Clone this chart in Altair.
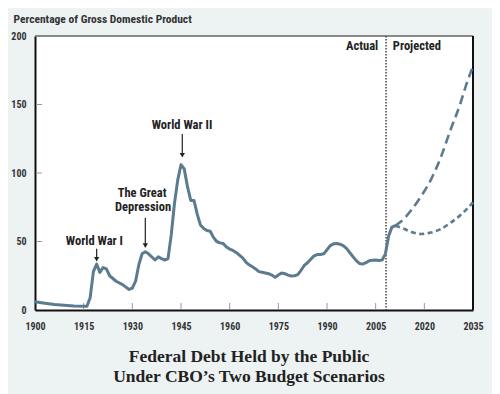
import altair as alt
import pandas as pd

# ---- data ----
hist_years = [1900, 1903, 1906, 1909, 1912, 1916, 1917, 1918, 1919, 1920, 1921, 1922, 1923, 1925,
              1927, 1929, 1930, 1931, 1932, 1933, 1934, 1935, 1937, 1938, 1939, 1940, 1941, 1942,
              1943, 1944, 1945, 1946, 1947, 1948, 1949, 1950, 1951, 1952, 1953, 1954, 1955, 1956,
              1957, 1958, 1959, 1960, 1961, 1962, 1963, 1964, 1965, 1966, 1967, 1968, 1969, 1970,
              1971, 1972, 1973, 1974, 1975, 1976, 1977, 1978, 1979, 1980, 1981, 1982, 1983, 1984,
              1985, 1986, 1987, 1988, 1989, 1990, 1991, 1992, 1993, 1994, 1995, 1996, 1997, 1998,
              1999, 2000, 2001, 2002, 2003, 2004, 2005, 2006, 2007, 2008, 2009, 2010, 2011]
hist_values = [6, 5, 4, 3.5, 3, 2.7, 9, 28, 33.5, 27.5, 31, 30, 25, 21,
               18.5, 15, 16, 21, 33, 41, 42.5, 41, 36.5, 38.8, 37.5, 36.5, 37.5, 55,
               78, 95, 106, 103, 90, 80, 80, 70, 62, 59.5, 58, 57.5, 53, 50,
               49, 48.5, 46, 44.5, 43.5, 42, 40, 38, 35, 33, 31.5, 30, 28, 27.5,
               27, 26.5, 25.5, 23.8, 25.5, 27, 26.5, 25.5, 24.8, 25, 25.8, 29, 32.5, 34.5,
               37, 39.5, 40.5, 40.5, 41, 44, 47, 48.3, 48.5, 48, 47, 45, 42, 39,
               36, 34, 33.5, 34.5, 36, 36.3, 36.5, 36.2, 36.5, 41, 54, 60.5, 61.5]

proj_years = [2011, 2013, 2016, 2019, 2022, 2025, 2028, 2031, 2033, 2035]
proj_high = [61.5, 65, 73, 83, 95, 111, 131, 150, 165, 178]
proj_low = [61.5, 60, 57, 55.5, 56.5, 59, 63.5, 69, 73.5, 78.5]

x_ticks = [1900, 1915, 1930, 1945, 1960, 1975, 1990, 2005, 2020, 2035]
y_ticks = [0, 50, 100, 150, 200]
divider_year = 2008.2

ann_labels = ["World War II", "The Great", "Depression", "World War I", "Actual", "Projected"]
ann_x = [1945.3, 1933.0, 1933.3, 1918.3, 2005.8, 2010.3]
ann_y = [132, 82.3, 72.2, 47.6, 189.7, 189.7]
ann_align = ["center", "center", "center", "center", "right", "left"]

arrow_x = [1945.4, 1934.0, 1919.0]
arrow_top = [128.5, 67.4, 44.7]
arrow_tip = [113.0, 47.0, 37.0]

title_lines = ["Federal Debt Held by the Public", "Under CBO\u2019s Two Budget Scenarios"]

# ---- styling ----
LINE = "#5b7b8e"
NARROW = "Liberation Sans Narrow, Roboto Condensed, DejaVu Sans Condensed, Roboto, sans-serif"

xs = alt.Scale(domain=[1900, 2035], nice=False, zero=False)
ys = alt.Scale(domain=[0, 200], nice=False)

hist = pd.DataFrame({"year": hist_years, "value": hist_values})
proj = pd.DataFrame({"year": proj_years, "high": proj_high, "low": proj_low})

x_axis = alt.Axis(values=x_ticks, format="d", title=None, ticks=False, grid=False,
                  domainColor="#111", domainWidth=2, labelFont=NARROW, labelFontWeight="bold",
                  labelFontSize=10, labelColor="#333", labelPadding=11, labelFlush=False)
y_axis = alt.Axis(values=y_ticks, title="Percentage of Gross Domestic Product", ticks=False,
                  grid=False, domainColor="#111", domainWidth=2, labelFont=NARROW,
                  labelFontWeight="bold", labelFontSize=10, labelColor="#333", labelPadding=9,
                  labelFlush=False,
                  titleAngle=0, titleX=-22, titleY=-14, titleAlign="left",
                  titleBaseline="alphabetic", titleFont=NARROW, titleFontSize=11.5,
                  titleFontWeight="bold", titleColor="#333")

hist_line = alt.Chart(hist).mark_line(color=LINE, strokeWidth=3, strokeJoin="round").encode(
    x=alt.X("year:Q", scale=xs, axis=x_axis),
    y=alt.Y("value:Q", scale=ys, axis=y_axis),
)
high_line = alt.Chart(proj).mark_line(color=LINE, strokeWidth=2.6, strokeDash=[9, 5],
                                      interpolate="monotone").encode(
    x=alt.X("year:Q", scale=xs), y=alt.Y("high:Q", scale=ys))
low_line = alt.Chart(proj).mark_line(color=LINE, strokeWidth=2.6, strokeDash=[5, 3.5],
                                     interpolate="monotone").encode(
    x=alt.X("year:Q", scale=xs), y=alt.Y("low:Q", scale=ys))

# inward ticks
ytick_df = pd.DataFrame({"v": y_ticks[1:-1]})
ytick = alt.Chart(ytick_df).mark_rule(color="#999", strokeWidth=1).encode(
    y=alt.Y("v:Q", scale=ys), x=alt.value(1), x2=alt.value(7))
xtick_df = pd.DataFrame({"v": x_ticks[1:-1]})
xtick = alt.Chart(xtick_df).mark_rule(color="#999", strokeWidth=1).encode(
    x=alt.X("v:Q", scale=xs), y=alt.value(273), y2=alt.value(267))

# frame top/right
top_df = pd.DataFrame({"v": [200]})
top_rule = alt.Chart(top_df).mark_rule(color="#666", strokeWidth=1.5).encode(
    y=alt.Y("v:Q", scale=ys))
right_df = pd.DataFrame({"v": [2035]})
right_rule = alt.Chart(right_df).mark_rule(color="#111", strokeWidth=2).encode(
    x=alt.X("v:Q", scale=xs))

div_df = pd.DataFrame({"v": [divider_year]})
divider = alt.Chart(div_df).mark_rule(color="#444", strokeWidth=1.5, strokeDash=[1.5, 1.5]).encode(
    x=alt.X("v:Q", scale=xs))

ann = pd.DataFrame({"label": ann_labels, "x": ann_x, "y": ann_y, "align": ann_align})
ann_layers = []
for a in ["center", "right", "left"]:
    ann_layers.append(
        alt.Chart(ann[ann["align"] == a]).mark_text(
            font=NARROW, fontSize=12.5, fontWeight="bold", color="#222", align=a,
            baseline="alphabetic").encode(
            x=alt.X("x:Q", scale=xs), y=alt.Y("y:Q", scale=ys), text="label:N"))

arr = pd.DataFrame({"x": arrow_x, "top": arrow_top, "tip": arrow_tip})
arrow_shaft = alt.Chart(arr).mark_rule(color="#222", strokeWidth=1.2).encode(
    x=alt.X("x:Q", scale=xs), y=alt.Y("top:Q", scale=ys), y2="tip:Q")
arrow_head = alt.Chart(arr).mark_point(shape="triangle-down", filled=True, color="#222",
                                       size=28, opacity=1).encode(
    x=alt.X("x:Q", scale=xs), y=alt.Y("tip:Q", scale=ys))

t1 = alt.Chart(pd.DataFrame({"t": [title_lines[0]]})).mark_text(
    font="Liberation Serif", fontSize=17.5, fontWeight="bold", color="#222",
    align="center", baseline="alphabetic").encode(
    text="t:N", x=alt.value(214), y=alt.value(326))
t2 = alt.Chart(pd.DataFrame({"t": [title_lines[1]]})).mark_text(
    font="Liberation Serif", fontSize=17.5, fontWeight="bold", color="#222",
    align="center", baseline="alphabetic").encode(
    text="t:N", x=alt.value(214), y=alt.value(346))

chart = alt.layer(
    ytick, xtick, top_rule, right_rule, divider, hist_line, high_line, low_line,
    *ann_layers, arrow_shaft, arrow_head, t1, t2
).properties(
    width=438, height=274,
    autosize=alt.AutoSizeParams(type="none"),
    padding={"left": 27, "top": 28, "right": 19, "bottom": 84},
    background="#edf2f3",
).configure_view(fill="white", stroke=None)

chart.save("out.html", embed_options={"renderer": "svg", "actions": False})
